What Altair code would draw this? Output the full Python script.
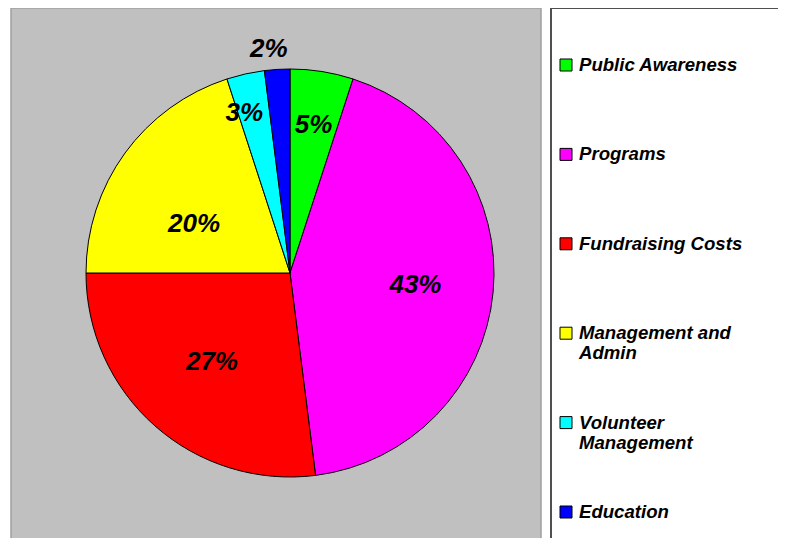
import altair as alt
import pandas as pd

categories = ["Public Awareness", "Programs", "Fundraising Costs",
              "Management and Admin", "Volunteer Management", "Education"]
legend_text = ["Public Awareness", "Programs", "Fundraising Costs",
               "Management and|Admin", "Volunteer|Management", "Education"]
values = [5, 43, 27, 20, 3, 2]
colors = ["#00FF00", "#FF00FF", "#FF0000", "#FFFF00", "#00FFFF", "#0000FF"]

df = pd.DataFrame({
    "category": categories,
    "legend": legend_text,
    "value": values,
    "idx": list(range(len(categories))),
})

W, H = 770, 530
CX, CY = 282, 265
R = 204
FONT = "Liberation Sans"
# label placement styling: distance from centre and small nudges
LABEL_STYLE = [(150, 0, 0), (126, 0, 0), (118, 0, 0), (110, -7, 16), (164, -10, 0), (226, -7, 2)]

base = alt.Chart(df)
one = alt.Chart(alt.Data(values=[{"a": 1}]))

panel = one.mark_rect(fill="#c0c0c0", stroke="#a0a0a0", strokeWidth=1.5).encode(
    x=alt.value(3), x2=alt.value(533), y=alt.value(0), y2=alt.value(560))

legend_box = one.mark_rect(fill="white", stroke="#505050", strokeWidth=2).encode(
    x=alt.value(543), x2=alt.value(800), y=alt.value(0), y2=alt.value(560))

color = alt.Color("category:N", scale=alt.Scale(domain=categories, range=colors), legend=None)

pie = base.mark_arc(stroke="black", strokeWidth=1, radius=R).encode(
    theta=alt.Theta("value:Q", stack=True),
    color=color,
    order=alt.Order("idx:Q"),
    x=alt.value(CX), y=alt.value(CY))

label_layers = []
for k, (r, ddx, ddy) in enumerate(LABEL_STYLE):
    label_layers.append(
        base.mark_text(font=FONT, fontSize=26, fontWeight="bold", fontStyle="italic",
                       color="black", align="center", baseline="middle", radius=r,
                       dx=ddx, dy=ddy).encode(
            theta=alt.Theta("value:Q", stack=True),
            order=alt.Order("idx:Q"),
            text=alt.Text("pct:N"),
            x=alt.value(CX), y=alt.value(CY)).transform_calculate(
            pct=f"datum.idx == {k} ? datum.value + '%' : ''")
    )

yscale = alt.Scale(domain=categories, range=[57, 504], padding=0)

squares = base.mark_square(size=144, stroke="black", strokeWidth=1, fillOpacity=1, opacity=1).encode(
    x=alt.value(558),
    y=alt.Y("category:N", scale=yscale, axis=None),
    color=color)

leg_text = base.mark_text(font=FONT, fontSize=18.6, fontWeight="bold", fontStyle="italic",
                          align="left", baseline="alphabetic", dy=6, lineHeight=20,
                          color="black").encode(
    x=alt.value(571),
    y=alt.Y("category:N", scale=yscale, axis=None),
    text=alt.Text("lines:N")).transform_calculate(lines="split(datum.legend, '|')")

chart = alt.layer(panel, legend_box, pie, *label_layers, squares, leg_text).properties(
    width=W, height=H, padding=0, autosize=alt.AutoSizeParams(type="none"),
    background="white"
).configure_view(stroke=None)

chart.save("out.html", embed_options={"renderer": "svg", "actions": False})
